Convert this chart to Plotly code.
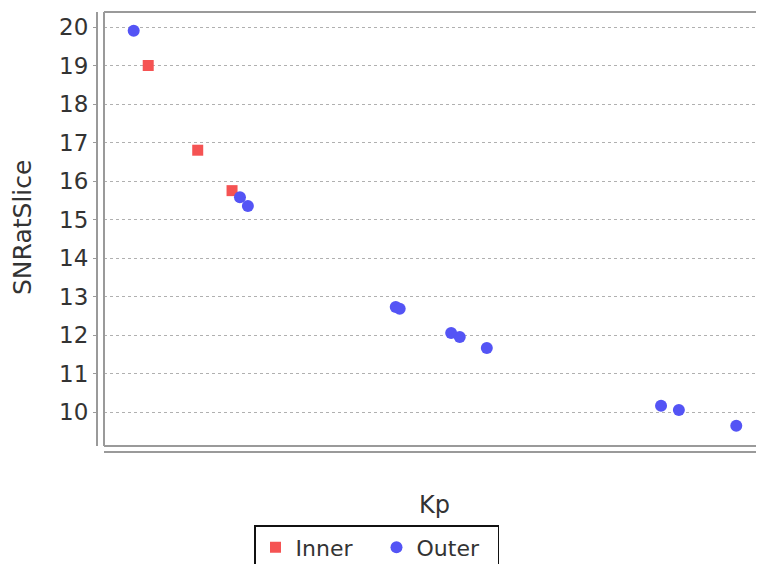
import plotly.graph_objects as go

# Data
inner_kp = [6.7, 14.2, 19.4]
inner_snr = [19.0, 16.8, 15.75]

outer_kp = [4.5, 20.6, 21.8, 44.2, 44.8, 52.6, 53.9, 58.0, 84.4, 87.1, 95.8]
outer_snr = [19.9, 15.58, 15.35, 12.73, 12.68, 12.05, 11.95, 11.66, 10.16, 10.05, 9.64]

y_ticks = [10, 11, 12, 13, 14, 15, 16, 17, 18, 19, 20]

# The page body has an 8px margin, so the figure is drawn at (8, 8)
BODY = 8
W, H = 764 - BODY, 564 - BODY
ML = 97 - BODY
MT = 12 - BODY
AXIS_BOTTOM = 452 - BODY
MB = H - AXIS_BOTTOM
MR = 0
PW = W - ML - MR
PH = H - MT - MB
OFF = 7

TXT = "#333333"

fig = go.Figure()
fig.add_trace(go.Scatter(
    x=inner_kp, y=inner_snr, mode="markers", name="Inner",
    marker=dict(symbol="square", size=11, color="#f55353"),
))
fig.add_trace(go.Scatter(
    x=outer_kp, y=outer_snr, mode="markers", name="Outer",
    marker=dict(symbol="circle", size=12, color="#5454f5"),
))

fig.update_layout(
    width=W, height=H,
    margin=dict(l=ML, r=MR, t=MT, b=MB, pad=0),
    paper_bgcolor="white", plot_bgcolor="white",
    font=dict(family="DejaVu Sans", color=TXT),
    xaxis=dict(
        domain=[OFF / PW, 1], range=[0, 100],
        showticklabels=False, ticks="", showgrid=False, zeroline=False,
        showline=True, linecolor="#9a9a9a", linewidth=2,
        anchor="free", position=0,
    ),
    yaxis=dict(
        domain=[(OFF - 1) / PH, 1], range=[9.117, 20.39],
        tickvals=y_ticks, ticktext=[str(v) for v in y_ticks],
        tickfont=dict(size=23, color=TXT),
        ticks="outside", ticklen=3, tickcolor="#9a9a9a",
        showgrid=True, gridcolor="#b0b0b0", gridwidth=1, griddash="3px,3px",
        zeroline=False,
        showline=True, linecolor="#9a9a9a", linewidth=2,
        anchor="free", position=0,
    ),
    legend=dict(
        orientation="h", xref="container", yref="container",
        x=(254 - BODY) / W, y=1 - (525 - BODY) / H, xanchor="left", yanchor="top",
        bordercolor="#111", borderwidth=1.5, bgcolor="white",
        font=dict(size=22, color=TXT),
        itemwidth=30, tracegroupgap=0, entrywidth=76,
    ),
    showlegend=True,
)

# Plot-area border (top, left, bottom; right edge is cut off by the image)
border = dict(color="#9a9a9a", width=2)
fig.add_shape(type="line", xref="x domain", yref="y domain", x0=0, x1=1, y0=1, y1=1, line=border)
fig.add_shape(type="line", xref="x domain", yref="y domain", x0=0, x1=0, y0=0, y1=1, line=border)
fig.add_shape(type="line", xref="x domain", yref="y domain", x0=0, x1=1, y0=0, y1=0, line=border)

fig.add_annotation(
    text="Kp", xref="paper", yref="paper",
    x=(434 - BODY - ML) / PW, y=(AXIS_BOTTOM - (505 - BODY)) / PH,
    showarrow=False, xanchor="center", yanchor="middle",
    font=dict(size=24, color=TXT),
)
fig.add_annotation(
    text="SNRatSlice", xref="paper", yref="paper",
    x=(22 - BODY - ML) / PW, y=(AXIS_BOTTOM - (228 - BODY)) / PH, textangle=-90,
    showarrow=False, xanchor="center", yanchor="middle",
    font=dict(size=25, color=TXT),
)

fig.write_html("out.html")
